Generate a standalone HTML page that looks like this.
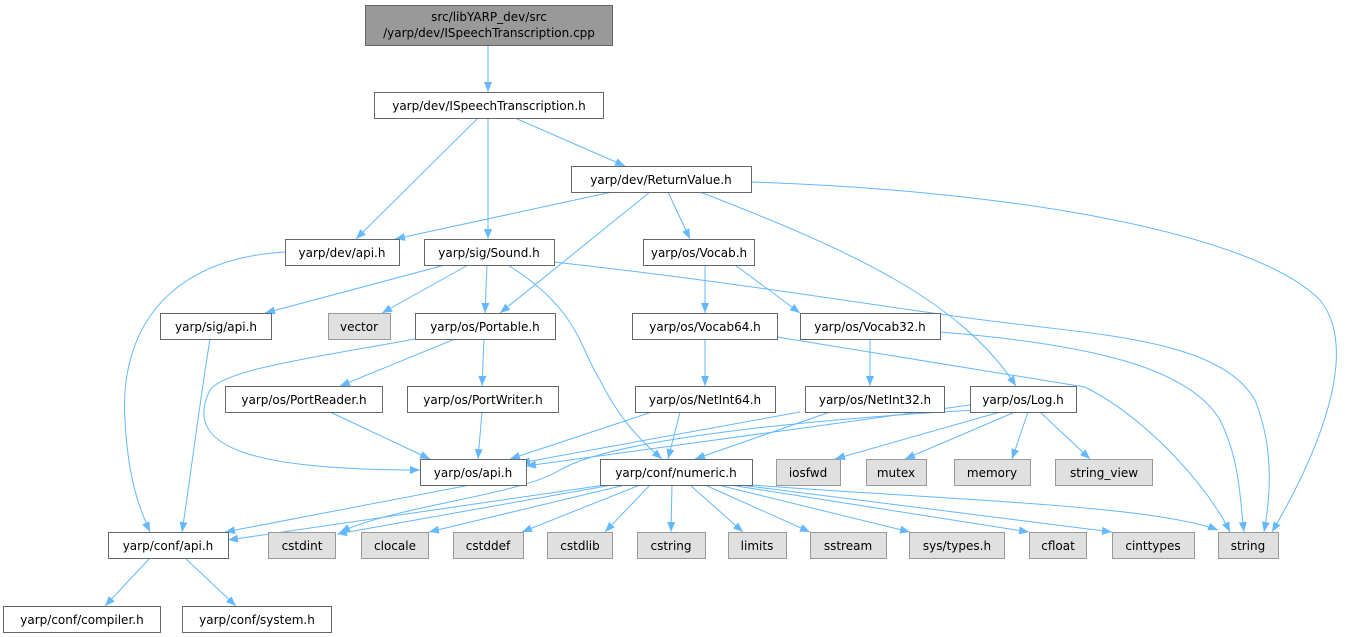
<!DOCTYPE html>
<html><head><meta charset="utf-8"><style>
html,body{margin:0;padding:0;background:#fff;}
svg{display:block;}
text{font-family:"DejaVu Sans","Liberation Sans",sans-serif;font-size:12px;fill:#000;}
.n{fill:#fff;stroke:#666;stroke-width:1;}
.g{fill:#e0e0e0;stroke:#999;stroke-width:1;}
.e{fill:none;stroke:#63b8ff;stroke-width:1;}
</style></head><body>
<svg width="1348" height="637" viewBox="0 0 1348 637" xmlns="http://www.w3.org/2000/svg">
<defs><marker id="a" viewBox="0 0 10 10" refX="10" refY="5" markerWidth="10" markerHeight="10" markerUnits="userSpaceOnUse" orient="auto"><path d="M0,1 L10,5 L0,9 z" fill="#63b8ff"/></marker></defs>
<g marker-end="url(#a)" class="e">
<path d="M488,45 L488,92"/>
<path d="M478,118 L356,239"/>
<path d="M488,118 L488,239"/>
<path d="M515,118 L625,166"/>
<path d="M612,192 L395,239"/>
<path d="M650,192 L500,313"/>
<path d="M668,192 L690,239"/>
<path d="M700,192 C850,250 960,300 1016,386"/>
<path d="M751,182 C1000,190 1250,230 1320,300 C1360,350 1320,450 1272,532"/>
<path d="M285,252 C150,260 120,350 125,420 C128,480 140,510 150,532"/>
<path d="M445,265 L265,313"/>
<path d="M468,265 L382,313"/>
<path d="M487,265 L485,313"/>
<path d="M508,265 C580,310 580,350 600,380 C620,420 640,440 662,459"/>
<path d="M554,262 C760,285 900,310 1000,322 C1100,335 1220,340 1255,400 C1275,450 1270,500 1264,532"/>
<path d="M705,265 L705,313"/>
<path d="M735,265 L800,313"/>
<path d="M210,339 C200,400 190,480 182,532"/>
<path d="M415,339 C300,360 225,370 210,390 C180,450 260,470 420,470"/>
<path d="M455,339 L340,386"/>
<path d="M484,339 L482,386"/>
<path d="M705,339 L705,386"/>
<path d="M777,337 L1085,387 C1150,420 1210,490 1230,532"/>
<path d="M940,332 C1100,345 1190,370 1220,420 C1240,460 1240,500 1244,532"/>
<path d="M870,339 L870,386"/>
<path d="M330,412 L430,459"/>
<path d="M482,412 L478,459"/>
<path d="M652,412 L510,459"/>
<path d="M680,412 L668,459"/>
<path d="M800,412 L520,463"/>
<path d="M830,412 L695,459"/>
<path d="M970,405 L526,466"/>
<path d="M975,410 C800,420 610,440 560,470 C520,495 400,505 340,532"/>
<path d="M1000,412 L835,459"/>
<path d="M1015,412 L905,459"/>
<path d="M1028,412 L1012,459"/>
<path d="M1040,412 L1090,459"/>
<path d="M470,485 L225,532"/>
<path d="M605,485 L228,540"/>
<path d="M612,485 L337,534"/>
<path d="M625,485 L429,532"/>
<path d="M640,485 L522,532"/>
<path d="M650,485 L605,532"/>
<path d="M672,485 L671,532"/>
<path d="M690,485 L743,532"/>
<path d="M705,485 L810,532"/>
<path d="M718,485 L910,532"/>
<path d="M730,485 L1029,532"/>
<path d="M740,485 L1112,532"/>
<path d="M752,485 C950,500 1150,505 1218,530"/>
<path d="M150,558 L105,606"/>
<path d="M185,558 L236,606"/>
</g>
<rect x="365.5" y="5.5" width="247" height="40" fill="#999" stroke="#666"/>
<text x="489" y="21" text-anchor="middle">src/libYARP_dev/src</text>
<text x="489" y="37" text-anchor="middle">/yarp/dev/ISpeechTranscription.cpp</text>
<g>
<rect class="n" x="374.5" y="92.5" width="229" height="26"/><text x="489" y="110" text-anchor="middle">yarp/dev/ISpeechTranscription.h</text>
<rect class="n" x="571.5" y="166.5" width="180" height="26"/><text x="661" y="184" text-anchor="middle">yarp/dev/ReturnValue.h</text>
<rect class="n" x="285.5" y="239.5" width="114" height="26"/><text x="342" y="257" text-anchor="middle">yarp/dev/api.h</text>
<rect class="n" x="424.5" y="239.5" width="130" height="26"/><text x="489" y="257" text-anchor="middle">yarp/sig/Sound.h</text>
<rect class="n" x="643.5" y="239.5" width="111" height="26"/><text x="699" y="257" text-anchor="middle">yarp/os/Vocab.h</text>
<rect class="n" x="160.5" y="313.5" width="111" height="26"/><text x="216" y="331" text-anchor="middle">yarp/sig/api.h</text>
<rect class="g" x="328.5" y="313.5" width="62" height="26"/><text x="359" y="331" text-anchor="middle">vector</text>
<rect class="n" x="415.5" y="313.5" width="140" height="26"/><text x="485" y="331" text-anchor="middle">yarp/os/Portable.h</text>
<rect class="n" x="632.5" y="313.5" width="145" height="26"/><text x="705" y="331" text-anchor="middle">yarp/os/Vocab64.h</text>
<rect class="n" x="800.5" y="313.5" width="140" height="26"/><text x="870" y="331" text-anchor="middle">yarp/os/Vocab32.h</text>
<rect class="n" x="225.5" y="386.5" width="157" height="26"/><text x="304" y="404" text-anchor="middle">yarp/os/PortReader.h</text>
<rect class="n" x="407.5" y="386.5" width="151" height="26"/><text x="483" y="404" text-anchor="middle">yarp/os/PortWriter.h</text>
<rect class="n" x="635.5" y="386.5" width="140" height="26"/><text x="705" y="404" text-anchor="middle">yarp/os/NetInt64.h</text>
<rect class="n" x="805.5" y="386.5" width="139" height="26"/><text x="875" y="404" text-anchor="middle">yarp/os/NetInt32.h</text>
<rect class="n" x="970.5" y="386.5" width="106" height="26"/><text x="1023" y="404" text-anchor="middle">yarp/os/Log.h</text>
<rect class="n" x="420.5" y="459.5" width="106" height="26"/><text x="473" y="477" text-anchor="middle">yarp/os/api.h</text>
<rect class="n" x="600.5" y="459.5" width="152" height="26"/><text x="676" y="477" text-anchor="middle">yarp/conf/numeric.h</text>
<rect class="g" x="776.5" y="459.5" width="64" height="26"/><text x="808" y="477" text-anchor="middle">iosfwd</text>
<rect class="g" x="866.5" y="459.5" width="60" height="26"/><text x="896" y="477" text-anchor="middle">mutex</text>
<rect class="g" x="954.5" y="459.5" width="76" height="26"/><text x="992" y="477" text-anchor="middle">memory</text>
<rect class="g" x="1055.5" y="459.5" width="97" height="26"/><text x="1104" y="477" text-anchor="middle">string_view</text>
<rect class="n" x="108.5" y="532.5" width="120" height="26"/><text x="168" y="550" text-anchor="middle">yarp/conf/api.h</text>
<rect class="g" x="268.5" y="532.5" width="67" height="26"/><text x="302" y="550" text-anchor="middle">cstdint</text>
<rect class="g" x="361.5" y="532.5" width="67" height="26"/><text x="395" y="550" text-anchor="middle">clocale</text>
<rect class="g" x="453.5" y="532.5" width="70" height="26"/><text x="488" y="550" text-anchor="middle">cstddef</text>
<rect class="g" x="547.5" y="532.5" width="65" height="26"/><text x="580" y="550" text-anchor="middle">cstdlib</text>
<rect class="g" x="637.5" y="532.5" width="68" height="26"/><text x="671" y="550" text-anchor="middle">cstring</text>
<rect class="g" x="728.5" y="532.5" width="58" height="26"/><text x="757" y="550" text-anchor="middle">limits</text>
<rect class="g" x="810.5" y="532.5" width="76" height="26"/><text x="848" y="550" text-anchor="middle">sstream</text>
<rect class="g" x="909.5" y="532.5" width="95" height="26"/><text x="957" y="550" text-anchor="middle">sys/types.h</text>
<rect class="g" x="1029.5" y="532.5" width="57" height="26"/><text x="1058" y="550" text-anchor="middle">cfloat</text>
<rect class="g" x="1112.5" y="532.5" width="82" height="26"/><text x="1153" y="550" text-anchor="middle">cinttypes</text>
<rect class="g" x="1218.5" y="532.5" width="60" height="26"/><text x="1248" y="550" text-anchor="middle">string</text>
<rect class="n" x="3.5" y="606.5" width="157" height="26"/><text x="82" y="624" text-anchor="middle">yarp/conf/compiler.h</text>
<rect class="n" x="182.5" y="606.5" width="149" height="26"/><text x="257" y="624" text-anchor="middle">yarp/conf/system.h</text>
</g>
</svg>
</body></html>
